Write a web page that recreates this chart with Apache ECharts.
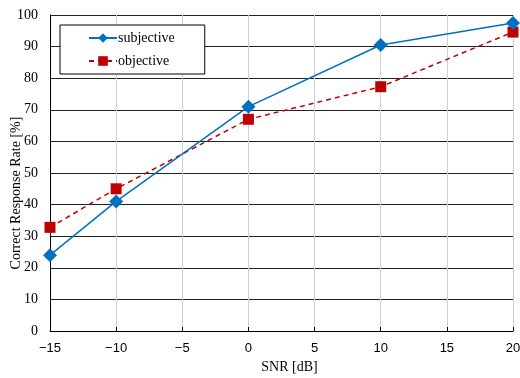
<!DOCTYPE html>
<html>
<head>
<meta charset="utf-8">
<script src="https://cdn.jsdelivr.net/npm/echarts@6/dist/echarts.min.js"></script>
<style>
	* { margin: 0; padding: 0; }
	#chart { width: 520px; height: 378px; background: #fff; }
</style>
</head>
<body>
<div id="chart"></div>
<script>
	// SNR [dB] on x, response rate [%] on y
	var snr = [-15, -10, 0, 10, 20];
	var subjective = [24, 41, 71, 90.5, 97.5];
	var objective = [32.8, 45, 67, 77.3, 94.6];

	function pairs(xs, ys) {
		return xs.map(function (x, i) { return [x, ys[i]]; });
	}

	var serif = '"Liberation Serif", "Times New Roman", serif';
	var chart = echarts.init(document.getElementById('chart'));
	chart.setOption({
		animation: false,
		grid: { left: 50, right: 7, top: 15, bottom: 47, outerBoundsMode: 'none', containLabel: false },
		legend: {
			orient: 'vertical',
			left: 60,
			top: 25,
			width: 144,
			padding: [6, 30, 6, 28],
			itemGap: 9,
			itemWidth: 28,
			itemHeight: 12,
			borderColor: '#000',
			borderWidth: 1,
			backgroundColor: '#fff',
			textStyle: { fontFamily: serif, fontSize: 14, color: '#000', padding: [0, 0, 0, -4] },
			data: ['subjective', 'objective']
		},
		xAxis: {
			type: 'value',
			min: -15,
			max: 20,
			interval: 5,
			name: 'SNR [dB]',
			nameLocation: 'middle',
			nameGap: 29,
			nameMoveOverlap: false,
			nameTextStyle: { fontFamily: serif, fontSize: 14, color: '#000', padding: [0, 0, 0, 16] },
			axisLine: { onZero: false, lineStyle: { color: '#000', width: 1 } },
			axisTick: { inside: true, length: 4, lineStyle: { color: '#000' } },
			axisLabel: {
				fontFamily: '"Liberation Sans", Arial, sans-serif',
				fontSize: 13,
				color: '#000',
				margin: 11,
				formatter: function (v) { return v < 0 ? '\u2212' + (-v) : String(v); }
			},
			splitLine: { show: true, lineStyle: { color: '#d0d0d0', width: 1 } }
		},
		yAxis: {
			type: 'value',
			min: 0,
			max: 100,
			interval: 10,
			name: 'Correct Response Rate [%]',
			nameLocation: 'middle',
			nameGap: 27,
			nameMoveOverlap: false,
			nameTextStyle: { fontFamily: serif, fontSize: 14, color: '#000', padding: [0, 40, 0, 0] },
			axisLine: { show: true, onZero: false, lineStyle: { color: '#000', width: 1 } },
			axisTick: { show: false },
			axisLabel: { fontFamily: serif, fontSize: 14, color: '#000', margin: 12 },
			splitLine: { show: true, lineStyle: { color: '#222', width: 1 } }
		},
		series: [{
				name: 'subjective',
				type: 'line',
				data: pairs(snr, subjective),
				symbol: 'diamond',
				symbolSize: 14,
				lineStyle: { color: '#0070C0', width: 1.5, type: 'solid' },
				itemStyle: { color: '#0070C0' },
				z: 3
			},
			{
				name: 'objective',
				type: 'line',
				data: pairs(snr, objective),
				symbol: 'rect',
				symbolSize: 11,
				lineStyle: { color: '#C00000', width: 1.5, type: [5, 4] },
				itemStyle: { color: '#C00000' },
				z: 2
			}
		]
	});
</script>
</body>
</html>
